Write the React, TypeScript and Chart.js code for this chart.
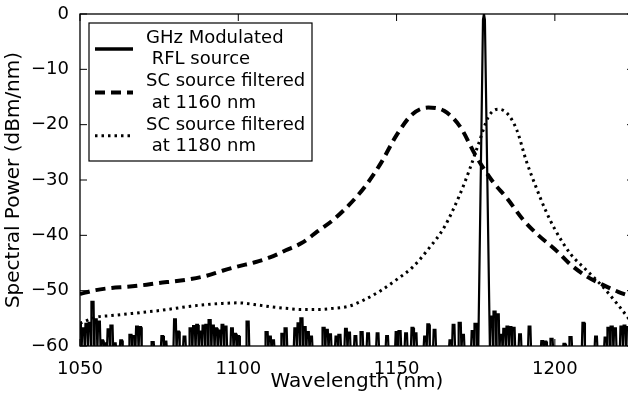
import React, { useEffect, useRef } from "react";
import { Chart, registerables } from "chart.js";

Chart.register(...registerables);

const X_MIN = 1050;
const X_MAX = 1225;
const Y_MIN = -60;
const Y_MAX = 0;
const xTicks = [1050, 1100, 1150, 1200];
const yTicks = [-60, -50, -40, -30, -20, -10, 0];

const F = -61; // below the plot floor (no signal)

// GHz modulated RFL source: noise floor, one value per nm starting at 1050 nm
// (null = laser line region, given separately below)
const rflNoiseStart = 1050;
const rflNoise: (number | null)[] = [
  -56.2, -56.8, -56.0, -55.8, -52.0, -55.2, -55.6, -59.0, -59.5, -57.0,
  -56.3, -59.5, F, -59.0, F, F, -58.0, -58.2, -56.5, -56.6,
  F, F, F, -59.3, F, F, -58.2, -59.2, F, F,
  -55.2, -57.4, F, -58.3, F, -56.8, -56.4, -56.2, -57.4, -56.3,
  -56.2, -55.3, -56.3, -56.8, -57.2, -56.2, -56.5, F, -56.8, -57.8,
  -58.2, F, F, -55.6, F, F, F, F, F, -57.5,
  -58.3, -59.0, F, F, -57.8, -56.8, F, F, -56.8, -55.9,
  -55.0, -56.6, -57.5, -58.3, F, F, F, -56.7, -57.1, -57.9,
  F, -58.3, -58.0, F, -56.9, -57.6, F, -58.2, F, -57.5,
  F, -57.7, F, F, -57.7, F, F, -58.2, F, F,
  -57.5, -57.3, F, -57.7, F, -56.7, -57.7, F, F, -58.3,
  -56.1, F, -57.1, F, F, F, F, -59.0, -56.2, F,
  -55.8, -58.0, F, F, -57.3, -56.0, null, null, null, null,
  -54.7, -53.8, -54.3, -58.0, -56.9, -56.5, -56.6, -56.7, F, -57.9,
  F, F, -56.5, F, F, F, -59.1, -59.2, F, -58.7,
  F, F, F, -59.6, F, -58.4, F, F, F, -55.8,
  F, F, F, -58.3, F, F, -58.5, -56.7, -56.5, -56.8,
  F, -56.5, -56.3, -56.6, -57.0, -58.0,
];
const rflPeakX = [1175.8, 1177.3, 1177.6, 1177.9, 1179.5];
const rflPeakY = [F, -1, 0, -1, F];

// SC source filtered at 1160 nm
const sc1160X = [
  1050, 1055, 1060, 1065, 1070, 1075, 1080, 1085, 1090, 1095, 1100, 1105,
  1110, 1115, 1120, 1125, 1130, 1135, 1140, 1145, 1150, 1155, 1160, 1165,
  1170, 1175, 1180, 1185, 1190, 1195, 1200, 1205, 1210, 1215, 1220, 1225,
];
const sc1160Y = [
  -50.6, -49.9, -49.5, -49.3, -49.0, -48.6, -48.3, -47.9, -47.3, -46.4, -45.6, -44.9,
  -44.0, -42.7, -41.4, -39.3, -37.2, -34.5, -31.2, -27.0, -21.9, -18.1, -16.9, -17.5,
  -20.3, -25.6, -30.0, -33.4, -37.2, -40.1, -42.5, -45.3, -47.4, -48.9, -50.2, -51.2,
];

// SC source filtered at 1180 nm
const sc1180X = [
  1050, 1055, 1060, 1065, 1070, 1075, 1080, 1085, 1090, 1095, 1100, 1105,
  1110, 1115, 1120, 1125, 1130, 1135, 1140, 1145, 1150, 1155, 1160, 1165,
  1170, 1173, 1176, 1179, 1182, 1185, 1188, 1191, 1194, 1197, 1200, 1205,
  1210, 1215, 1220, 1225,
];
const sc1180Y = [
  -55.9, -54.8, -54.5, -54.2, -53.9, -53.6, -53.2, -52.8, -52.5, -52.3, -52.2, -52.5,
  -52.9, -53.2, -53.4, -53.4, -53.2, -52.8, -51.6, -50.0, -48.0, -45.8, -42.5, -38.6,
  -32.6, -28.2, -23.3, -18.6, -17.2, -18.0, -21.0, -26.6, -31.2, -35.4, -38.9, -43.4,
  -46.3, -49.2, -52.6, -56.3,
];

const legendLabels = [
  ["GHz Modulated", " RFL source"],
  ["SC source filtered", " at 1160 nm"],
  ["SC source filtered", " at 1180 nm"],
];

const FONT = '"DejaVu Sans", sans-serif';

// each noise sample is a narrow spike rising from below the floor
function buildRfl() {
  const pts: { x: number; y: number }[] = [];
  rflNoise.forEach((v, i) => {
    if (v === null) return;
    const x = rflNoiseStart + i;
    if (v <= F) {
      pts.push({ x: x - 0.5, y: F }, { x: x + 0.5, y: F });
    } else {
      pts.push(
        { x: x - 0.5, y: F },
        { x: x - 0.28, y: v },
        { x: x + 0.28, y: v },
        { x: x + 0.5, y: F }
      );
    }
  });
  rflPeakX.forEach((x, i) => pts.push({ x, y: rflPeakY[i] }));
  return pts.sort((a, b) => a.x - b.x);
}

const fmtY = (v: number) => (v < 0 ? "\u2212" + Math.abs(v) : String(v));

const framePlugin = {
  id: "frame",
  afterDatasetsDraw(chart: any) {
    const { ctx, chartArea: ca, scales } = chart;
    const x = scales.x;
    const y = scales.y;
    ctx.save();
    ctx.strokeStyle = "#000";
    ctx.lineWidth = 1.3;
    ctx.strokeRect(ca.left, ca.top, ca.right - ca.left, ca.bottom - ca.top);
    ctx.lineWidth = 1;
    ctx.beginPath();
    x.ticks.forEach((t: any) => {
      const p = x.getPixelForValue(t.value);
      ctx.moveTo(p, ca.bottom);
      ctx.lineTo(p, ca.bottom - 7);
      ctx.moveTo(p, ca.top);
      ctx.lineTo(p, ca.top + 7);
    });
    y.ticks.forEach((t: any) => {
      const p = y.getPixelForValue(t.value);
      ctx.moveTo(ca.left, p);
      ctx.lineTo(ca.left + 7, p);
      ctx.moveTo(ca.right, p);
      ctx.lineTo(ca.right - 7, p);
    });
    ctx.stroke();
    ctx.restore();
  },
};

const legendPlugin = {
  id: "boxLegend",
  afterDraw(chart: any) {
    const { ctx, chartArea: ca } = chart;
    const left = ca.left + 9;
    const top = ca.top + 9;
    const w = 223;
    const h = 138;
    ctx.save();
    ctx.fillStyle = "#fff";
    ctx.fillRect(left, top, w, h);
    ctx.strokeStyle = "#000";
    ctx.lineWidth = 1.2;
    ctx.strokeRect(left, top, w, h);
    ctx.font = "18px " + FONT;
    ctx.fillStyle = "#000";
    ctx.textBaseline = "middle";
    ctx.textAlign = "left";
    chart.data.datasets.forEach((ds: any, i: number) => {
      const y1 = top + 15.5 + i * 43.3;
      const y2 = y1 + 21.2;
      const ym = (y1 + y2) / 2;
      ctx.beginPath();
      ctx.lineWidth = ds.legendWidth || ds.borderWidth;
      ctx.setLineDash(ds.borderDash || []);
      ctx.lineCap = "butt";
      ctx.moveTo(left + 6, ym);
      ctx.lineTo(left + 44, ym);
      ctx.stroke();
      ctx.setLineDash([]);
      legendLabels[i].forEach((t, j) => ctx.fillText(t, left + 57, j ? y2 : y1));
    });
    ctx.restore();
  },
};

export default function App() {
  const ref = useRef<HTMLCanvasElement | null>(null);

  useEffect(() => {
    if (!ref.current) return;
    Chart.defaults.font.family = FONT;
    Chart.defaults.font.size = 18;
    Chart.defaults.color = "#000";
    const chart = new Chart(ref.current, {
      type: "line",
      data: {
        datasets: [
          {
            label: legendLabels[0].join(""),
            data: buildRfl(),
            borderColor: "#000",
            borderWidth: 2.2,
            legendWidth: 3.5,
            pointRadius: 0,
            tension: 0,
            borderJoinStyle: "miter",
          } as any,
          {
            label: legendLabels[1].join(""),
            data: sc1160X.map((x, i) => ({ x, y: sc1160Y[i] })),
            borderColor: "#000",
            borderWidth: 4,
            borderDash: [10, 6],
            pointRadius: 0,
            cubicInterpolationMode: "monotone",
          },
          {
            label: legendLabels[2].join(""),
            data: sc1180X.map((x, i) => ({ x, y: sc1180Y[i] })),
            borderColor: "#000",
            borderWidth: 3,
            borderDash: [2.5, 4],
            pointRadius: 0,
            cubicInterpolationMode: "monotone",
          },
        ],
      },
      options: {
        animation: false,
        responsive: false,
        events: [],
        layout: { padding: { top: 14, right: 16, left: 0, bottom: 0 } },
        plugins: { legend: { display: false }, tooltip: { enabled: false } },
        scales: {
          x: {
            type: "linear",
            min: X_MIN,
            max: X_MAX,
            afterBuildTicks: (s: any) => {
              s.ticks = xTicks.map((v) => ({ value: v }));
            },
            afterFit: (s: any) => {
              s.height = 48;
            },
            grid: { display: false },
            border: { display: false },
            ticks: {
              padding: 5,
              color: "#000",
              font: { size: 18, family: FONT },
              maxRotation: 0,
              callback: (v: any) => String(v),
            },
            title: {
              display: true,
              text: "Wavelength (nm)",
              color: "#000",
              font: { size: 20, family: FONT },
              padding: { top: 0, bottom: 0 },
            },
          },
          y: {
            type: "linear",
            min: Y_MIN,
            max: Y_MAX,
            afterBuildTicks: (s: any) => {
              s.ticks = yTicks.map((v) => ({ value: v }));
            },
            afterFit: (s: any) => {
              s.width = 80;
            },
            grid: { display: false },
            border: { display: false },
            ticks: {
              padding: 3,
              color: "#000",
              font: { size: 18, family: FONT },
              callback: (v: any) => fmtY(Number(v)),
            },
            title: {
              display: true,
              text: "Spectral Power (dBm/nm)",
              color: "#000",
              font: { size: 20, family: FONT },
              padding: { top: 2, bottom: 0 },
            },
          },
        },
      },
      plugins: [framePlugin, legendPlugin],
    });
    return () => chart.destroy();
  }, []);

  return (
    <div style={{ position: "fixed", left: 0, top: 0, width: 650, height: 394, background: "#fff" }}>
      <canvas ref={ref} width={650} height={394} style={{ display: "block" }} />
    </div>
  );
}
